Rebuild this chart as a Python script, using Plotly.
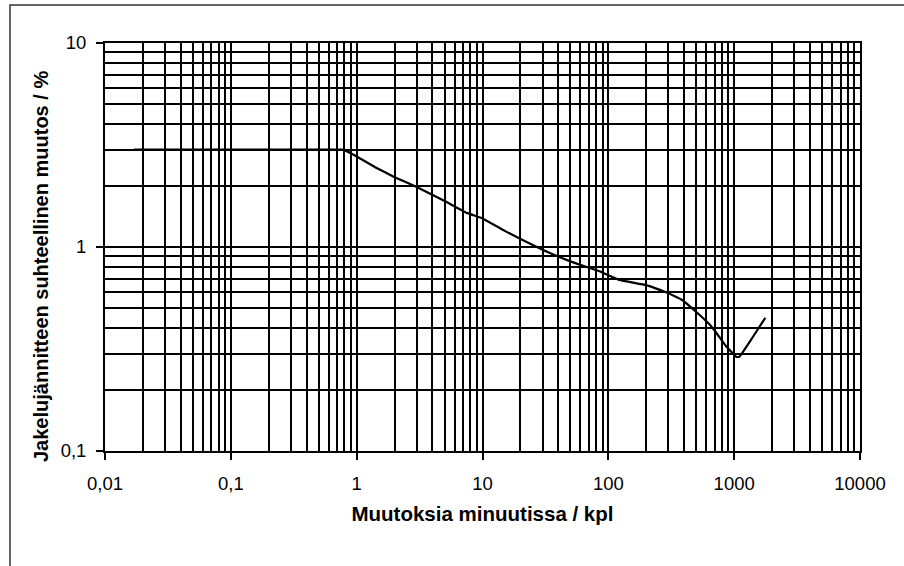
import plotly.graph_objects as go

# Data
muutokset_x = [0.017, 0.1, 0.5, 0.77, 0.93, 1.44, 2.0, 3.0, 5.0, 7.5, 10, 15, 30, 50, 85, 122, 200, 288, 386, 500, 630, 720, 850, 1037, 1100, 1400, 1770]
jannite_y = [3.0, 3.0, 3.0, 3.0, 2.85, 2.44, 2.2, 1.97, 1.68, 1.47, 1.38, 1.2, 0.97, 0.85, 0.76, 0.69, 0.65, 0.60, 0.55, 0.48, 0.42, 0.38, 0.33, 0.29, 0.29, 0.36, 0.45]

x_tickvals = [0.01, 0.1, 1, 10, 100, 1000, 10000]
x_ticktext = ["0,01", "0,1", "1", "10", "100", "1000", "10000"]
y_tickvals = [0.1, 1, 10]
y_ticktext = ["0,1", "1", "10"]

x_title = "Muutoksia minuutissa / kpl"
y_title = "Jakelujännitteen suhteellinen muutos / %"

x_minor = [m * 10 ** e for e in range(-2, 4) for m in range(2, 10)]
y_minor = [m * 10 ** e for e in range(-1, 1) for m in range(2, 10)]

font_family = "Liberation Sans, Arial, sans-serif"
GW = 1.8

fig = go.Figure()
fig.add_trace(go.Scatter(
    x=muutokset_x, y=jannite_y, mode="lines",
    line=dict(color="black", width=2.2, shape="spline", smoothing=0.3),
    showlegend=False, hoverinfo="skip",
))

axis_common = dict(
    type="log",
    showgrid=True, gridcolor="black", gridwidth=GW,
    showline=True, linecolor="black", linewidth=GW, mirror=True,
    ticks="outside", ticklen=7, tickcolor="black", tickwidth=GW,
    zeroline=False,
    tickfont=dict(family=font_family, size=18.5, color="black"),
)

fig.update_xaxes(
    **axis_common,
    range=[-2, 4],
    tickmode="array", tickvals=x_tickvals, ticktext=x_ticktext,
    ticklabelstandoff=8,
    minor=dict(tickmode="array", tickvals=x_minor, showgrid=True,
               gridcolor="black", gridwidth=GW, ticks=""),
    title=dict(text="<b>" + x_title + "</b>",
               font=dict(family=font_family, size=20.5, color="black"),
               standoff=14),
)
fig.update_yaxes(
    **axis_common,
    range=[-1, 1],
    tickmode="array", tickvals=y_tickvals, ticktext=y_ticktext,
    ticklabelstandoff=6,
    minor=dict(tickmode="array", tickvals=y_minor, showgrid=True,
               gridcolor="black", gridwidth=GW, ticks=""),
)

# rotated y-axis title placed as in the reference (slightly below centre)
fig.add_annotation(
    text="<b>" + y_title + "</b>", textangle=-90,
    xref="paper", yref="paper",
    x=(41 - 105) / 755, y=(451 - 267) / 408,
    xanchor="center", yanchor="middle", showarrow=False,
    font=dict(family=font_family, size=20, color="black"),
)

# outer frame of the figure (partially beyond the visible window)
fig.add_shape(type="rect", xref="paper", yref="paper",
              x0=(10 - 105) / 755, x1=(915 - 105) / 755,
              y0=(451 - 580) / 408, y1=(451 - 5) / 408,
              line=dict(color="#333333", width=1.5), layer="below")

fig.update_layout(
    width=904, height=566,
    margin=dict(l=105, r=44, t=43, b=115),
    paper_bgcolor="white", plot_bgcolor="white",
    font=dict(family=font_family, color="black"),
)

fig.write_html("out.html")
